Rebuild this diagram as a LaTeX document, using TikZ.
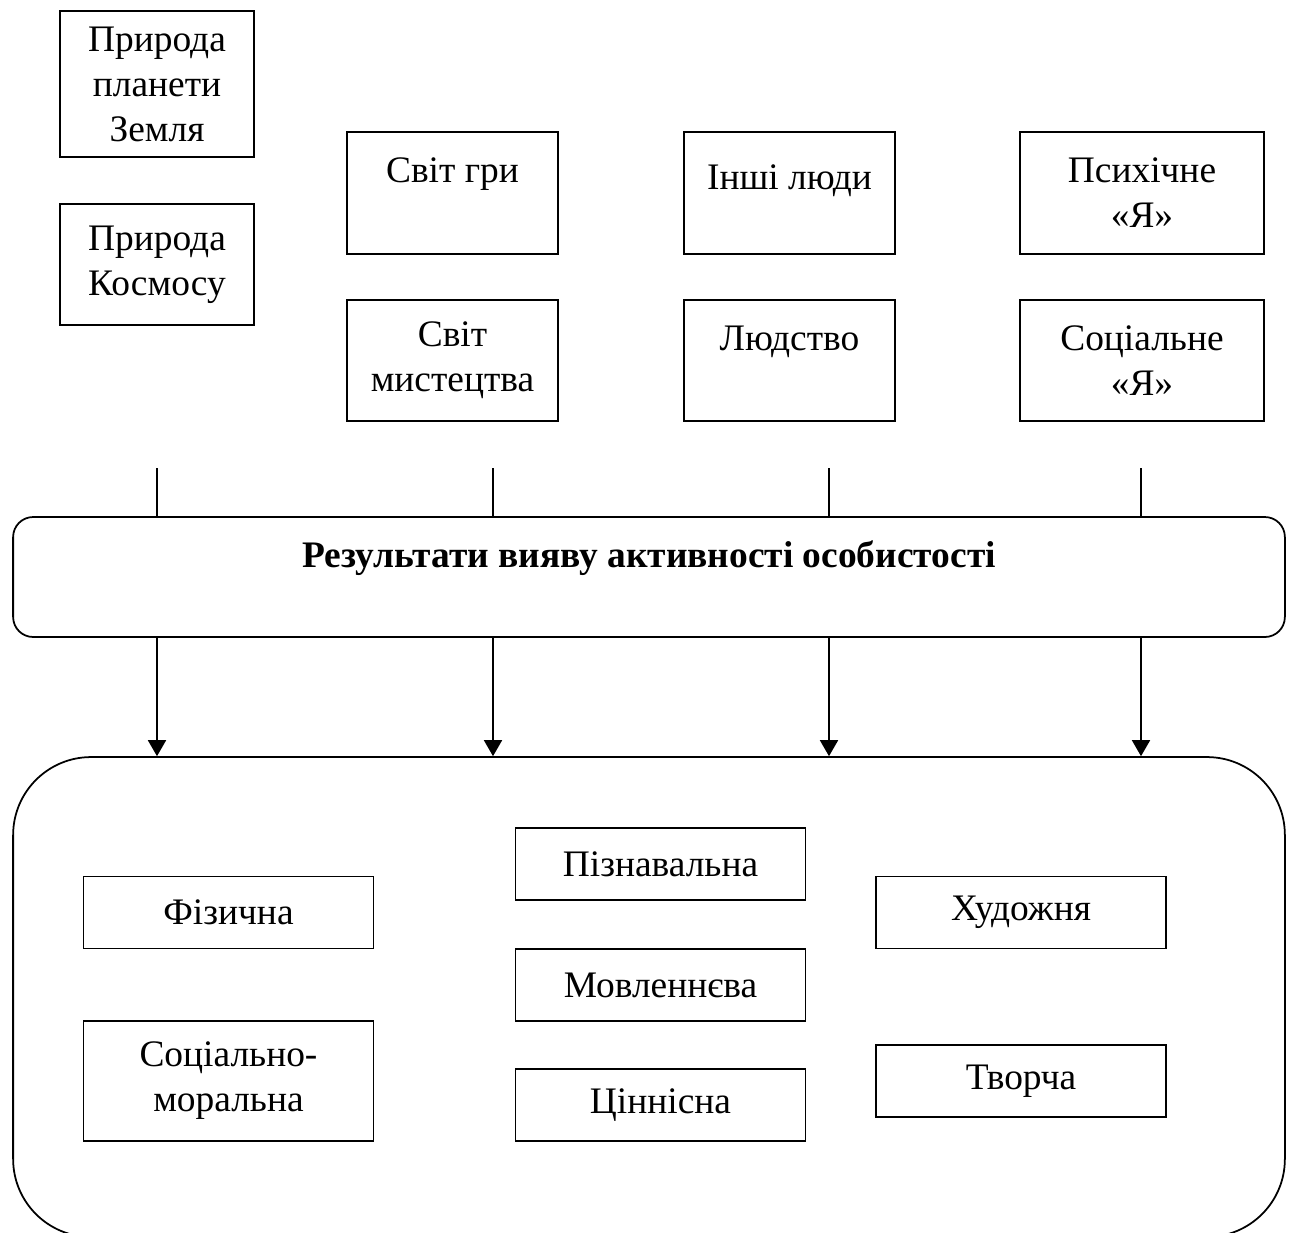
\documentclass[tikz,border=0pt]{standalone}
\usepackage{fontspec}
\setmainfont{Liberation Serif}
\usetikzlibrary{positioning, arrows.meta}

\begin{document}
\begin{tikzpicture}[
    x=0.02cm, y=-0.02cm, line width=1pt,
    font=\fontsize{21.3}{25.6}\selectfont,
    sbox/.style={draw, align=center, inner sep=0pt},
    wbox/.style={sbox, minimum width=3.88cm},
    mbox/.style={sbox, minimum width=4.22cm, minimum height=2.43cm},
    pbox/.style={sbox, minimum width=4.88cm, minimum height=2.43cm},
    abox/.style={sbox, minimum width=5.8cm, minimum height=1.44cm}
]
\useasboundingbox (0,0) rectangle (1295,1232);

% upper row
\node[wbox, minimum height=2.92cm] (zemlia) at (157, 84) {Природа\\планети\\Земля};
\node[wbox, minimum height=2.42cm] (kosmos) at (157, 264.5) {Природа\\Космосу};
\node[mbox] (hra) at (452.5, 193) {Світ гри\\\mbox{}};
\node[mbox] (mystetstvo) at (452.5, 360.5) {Світ\\мистецтва};
\node[mbox] (lyudy) at (789.5, 193) {Інші люди\\[-8pt]\mbox{}};
\node[mbox] (lyudstvo) at (789.5, 360.5) {Людство\\\mbox{}};
\node[pbox] (psykh) at (1142, 193) {Психічне\\«Я»};
\node[pbox] (sotsial) at (1142, 360.5) {Соціальне\\«Я»};

% results
\node[sbox, rounded corners=0.4cm, minimum width=25.44cm, minimum height=2.4cm,
      font=\fontsize{21.3}{25.6}\selectfont\bfseries] (title) at (649, 577)
      {Результати вияву активності особистості\\\mbox{}};
\node[draw, rounded corners=1.56cm, minimum width=25.44cm, minimum height=9.6cm] (result) at (649, 997) {};

\node[abox] (fizychna) at (228.5, 912.5) {Фізична};
\node[abox, minimum height=2.4cm] (moralna) at (228.5, 1081) {Соціально-\\моральна};
\node[abox] (piznav) at (660.5, 864) {Пізнавальна};
\node[abox] (movlen) at (660.5, 985) {Мовленнєва};
\node[abox] (tsinn) at (660.5, 1105) {Ціннісна};
\node[abox] (khudozh) at (1021, 912.5) {Художня};
\node[abox] (tvorcha) at (1021, 1081) {Творча};

\coordinate (t1) at (157, 468);
\coordinate (t2) at (493, 468);
\coordinate (t3) at (829, 468);
\coordinate (t4) at (1141, 468);

\draw (t1) -- (t1 |- title.north);
\draw (t2) -- (t2 |- title.north);
\draw (t3) -- (t3 |- title.north);
\draw (t4) -- (t4 |- title.north);

\draw[-{Triangle[length=0.32cm, width=0.36cm]}] (t1 |- title.south) -- (t1 |- result.north);
\draw[-{Triangle[length=0.32cm, width=0.36cm]}] (t2 |- title.south) -- (t2 |- result.north);
\draw[-{Triangle[length=0.32cm, width=0.36cm]}] (t3 |- title.south) -- (t3 |- result.north);
\draw[-{Triangle[length=0.32cm, width=0.36cm]}] (t4 |- title.south) -- (t4 |- result.north);
\end{tikzpicture}
\end{document}
